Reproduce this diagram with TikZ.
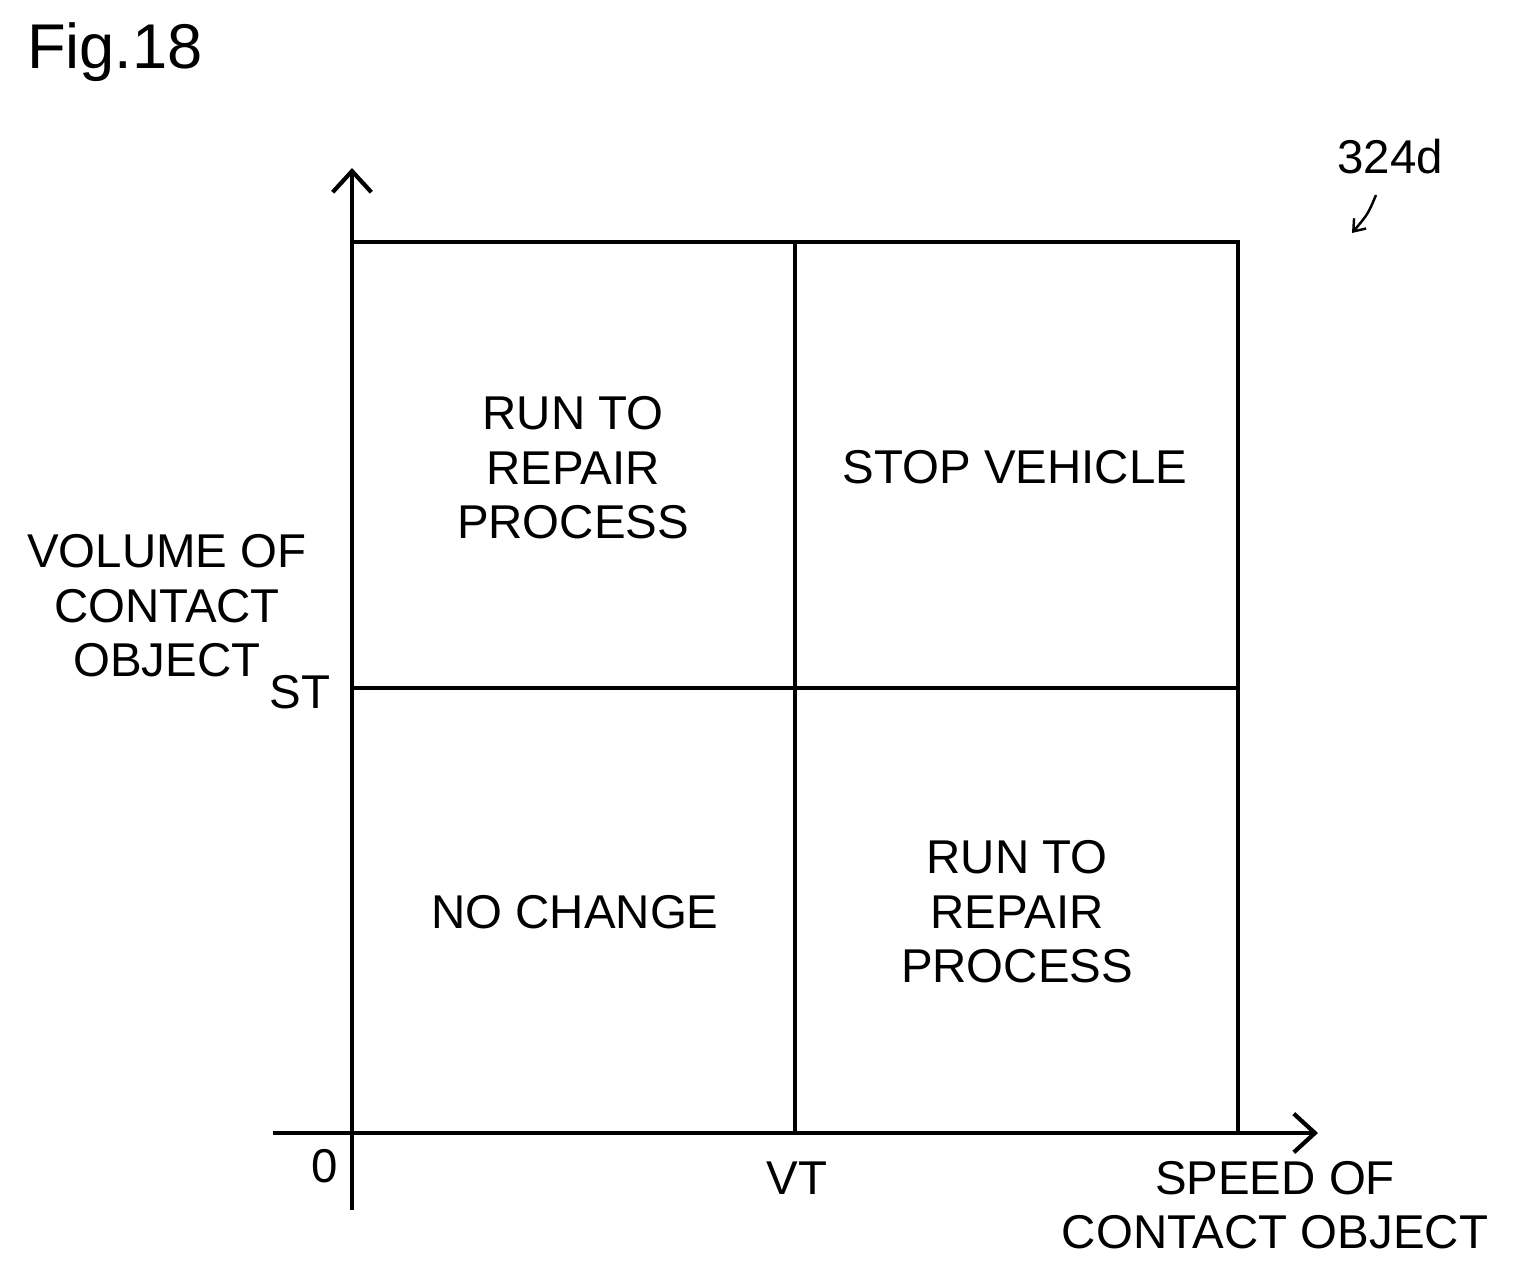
\documentclass[tikz,border=0pt]{standalone}
\usepackage{fontspec}
\setmainfont{Liberation Sans}
\usetikzlibrary{arrows.meta}

\tikzset{
  gridline/.style = {line width=2.4pt},
  axisline/.style = {line width=2.4pt, -{Straight Barb[length=12pt,width=22pt]}},
  celltext/.style = {align=center, font=\fontsize{27}{31}\selectfont},
  ticktext/.style = {font=\fontsize{27}{31}\selectfont}
}

\begin{document}
\begin{tikzpicture}[x=0.02cm, y=-0.02cm]
  \useasboundingbox (0,0) rectangle (1528,1271);

  % axes
  \coordinate (O) at (352,1133);
  \coordinate (ytop) at (352,168);
  \coordinate (ybot) at (352,1210);
  \coordinate (xleft) at (273,1133);
  \coordinate (xright) at (1318,1133);
  \draw[axisline] (ybot) -- (ytop);
  \draw[axisline] (xleft) -- (xright);

  % grid
  \draw[gridline] (352,242) -- (1238,242) -- (1238,1133);
  \draw[gridline] (795,242) -- (795,1133);
  \draw[gridline] (352,688) -- (1238,688);

  % cell texts
  \node[celltext] (runA) at (573,468) {RUN TO\\REPAIR\\PROCESS};
  \node[celltext] (stop) at (1015,467) {STOP VEHICLE};
  \node[celltext] (nochg) at (575,912) {NO CHANGE};
  \node[celltext] (runB) at (1017,912) {RUN TO\\REPAIR\\PROCESS};

  % axis labels
  \node[celltext] (ylabel) at (167,606) {VOLUME OF\\CONTACT\\OBJECT};
  \node[celltext] (xlabel) at (1275,1205) {SPEED OF\\CONTACT OBJECT};
  \node[ticktext] (st) at (300,692) {ST};
  \node[ticktext] (zero) at (325,1166) {0};
  \node[ticktext] (vt) at (797,1178) {VT};

  % title and reference
  \node[font=\fontsize{36}{40}\selectfont] (fig) at (115,52) {Fig.18};
  \node[ticktext] (ref) at (1390,157) {324d};
  \coordinate (refend) at (1352,233);
  \draw[line width=1.4pt, -{Straight Barb[length=6pt,width=9pt]}]
    (1376,195) .. controls (1368,214) .. (refend);
\end{tikzpicture}
\end{document}
